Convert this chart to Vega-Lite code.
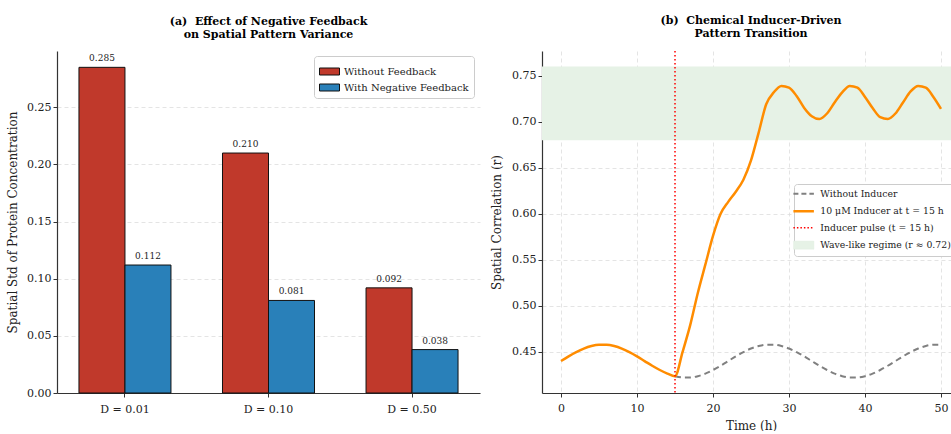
{
  "$schema": "https://vega.github.io/schema/vega-lite/v6.json",
  "background": "white",
  "padding": {"left": 6, "top": 15, "right": 0, "bottom": 0},
  "spacing": 62,
  "bounds": "flush",
  "datasets": {
    "bars": [
      {"cond": "D = 0.01", "grp": "Without Feedback", "v": 0.285},
      {"cond": "D = 0.01", "grp": "With Negative Feedback", "v": 0.112},
      {"cond": "D = 0.10", "grp": "Without Feedback", "v": 0.210},
      {"cond": "D = 0.10", "grp": "With Negative Feedback", "v": 0.081},
      {"cond": "D = 0.50", "grp": "Without Feedback", "v": 0.092},
      {"cond": "D = 0.50", "grp": "With Negative Feedback", "v": 0.038}
    ],
    "gray": [
      {"t": 15, "v": 0.4236}, {"t": 16, "v": 0.4222}, {"t": 17, "v": 0.4222}, {"t": 18, "v": 0.4236},
      {"t": 19, "v": 0.4264}, {"t": 20, "v": 0.4303}, {"t": 21, "v": 0.4349}, {"t": 22, "v": 0.440},
      {"t": 23, "v": 0.4451}, {"t": 24, "v": 0.4497}, {"t": 25, "v": 0.4536}, {"t": 26, "v": 0.4564},
      {"t": 27, "v": 0.4578}, {"t": 28, "v": 0.4578}, {"t": 29, "v": 0.4564}, {"t": 30, "v": 0.4536},
      {"t": 31, "v": 0.4497}, {"t": 32, "v": 0.4451}, {"t": 33, "v": 0.440}, {"t": 34, "v": 0.4349},
      {"t": 35, "v": 0.4303}, {"t": 36, "v": 0.4264}, {"t": 37, "v": 0.4236}, {"t": 38, "v": 0.4222},
      {"t": 39, "v": 0.4222}, {"t": 40, "v": 0.4236}, {"t": 41, "v": 0.4264}, {"t": 42, "v": 0.4303},
      {"t": 43, "v": 0.4349}, {"t": 44, "v": 0.440}, {"t": 45, "v": 0.4451}, {"t": 46, "v": 0.4497},
      {"t": 47, "v": 0.4536}, {"t": 48, "v": 0.4564}, {"t": 49, "v": 0.4578}, {"t": 50, "v": 0.4578}
    ],
    "orange": [
      {"t": 0, "v": 0.440}, {"t": 1, "v": 0.4451}, {"t": 2, "v": 0.4497}, {"t": 3, "v": 0.4536},
      {"t": 4, "v": 0.4564}, {"t": 5, "v": 0.4578}, {"t": 6, "v": 0.4578}, {"t": 7, "v": 0.4564},
      {"t": 8, "v": 0.4536}, {"t": 9, "v": 0.4497}, {"t": 10, "v": 0.4451}, {"t": 11, "v": 0.440},
      {"t": 12, "v": 0.4349}, {"t": 13, "v": 0.4303}, {"t": 14, "v": 0.4264}, {"t": 15, "v": 0.4236},
      {"t": 16, "v": 0.450}, {"t": 17, "v": 0.479}, {"t": 18, "v": 0.514}, {"t": 19, "v": 0.545},
      {"t": 20, "v": 0.576}, {"t": 21, "v": 0.600}, {"t": 22, "v": 0.613}, {"t": 23, "v": 0.624},
      {"t": 24, "v": 0.637}, {"t": 25, "v": 0.658}, {"t": 26, "v": 0.688}, {"t": 27, "v": 0.719},
      {"t": 28, "v": 0.732}, {"t": 29, "v": 0.739}, {"t": 30, "v": 0.737}, {"t": 31, "v": 0.728},
      {"t": 32, "v": 0.715}, {"t": 33, "v": 0.706}, {"t": 34, "v": 0.703}, {"t": 35, "v": 0.709},
      {"t": 36, "v": 0.721}, {"t": 37, "v": 0.732}, {"t": 38, "v": 0.739}, {"t": 39, "v": 0.737},
      {"t": 40, "v": 0.727}, {"t": 41, "v": 0.715}, {"t": 42, "v": 0.705}, {"t": 43, "v": 0.703},
      {"t": 44, "v": 0.709}, {"t": 45, "v": 0.721}, {"t": 46, "v": 0.733}, {"t": 47, "v": 0.739},
      {"t": 48, "v": 0.737}, {"t": 49, "v": 0.727}, {"t": 50, "v": 0.714}
    ],
    "pulse": [{"t": 15, "series": "Inducer pulse (t = 15 h)"}],
    "band": [{"lo": 0.68, "hi": 0.76, "series": "Wave-like regime (r ≈ 0.72)"}]
  },
  "hconcat": [
    {
      "width": 423,
      "height": 342,
      "title": {"text": ["(a)\u00a0 Effect of Negative Feedback", "on Spatial Pattern Variance"], "offset": 11},
      "data": {"name": "bars"},
      "encoding": {
        "x": {"field": "cond", "type": "nominal", "sort": null,
              "scale": {"paddingInner": 0.359, "paddingOuter": 0.153},
              "axis": {"title": null, "labelAngle": 0, "grid": false, "labelPadding": 6, "labelFontSize": 11}},
        "xOffset": {"field": "grp", "type": "nominal", "sort": ["Without Feedback", "With Negative Feedback"]},
        "y": {"field": "v", "type": "quantitative",
              "scale": {"domain": [0, 0.2993], "nice": false, "zero": true},
              "axis": {"title": "Spatial Std of Protein Concentration", "values": [0, 0.05, 0.1, 0.15, 0.2, 0.25], "format": ".2f", "grid": true, "titlePadding": 7, "titleFontSize": 12, "labelFontSize": 11}}
      },
      "layer": [
        {
          "mark": {"type": "bar", "stroke": "#111", "strokeWidth": 1},
          "encoding": {
            "color": {"field": "grp", "type": "nominal",
                      "scale": {"domain": ["Without Feedback", "With Negative Feedback"], "range": ["#c0392b", "#2980b9"]},
                      "legend": {"title": null, "orient": "none", "legendX": 257, "legendY": 5, "padding": 5,
                                 "symbolType": "M-1,-0.35H1V0.35H-1Z", "symbolSize": 400, "labelFontSize": 10,
                                 "symbolStrokeColor": "#111", "symbolStrokeWidth": 1, "rowPadding": -3,
                                 "encode": {"symbols": {"update": {"stroke": {"value": "#111"}, "strokeWidth": {"value": 1}}}}}}
          }
        },
        {
          "mark": {"type": "text", "dy": -4, "fontSize": 9, "color": "#222", "baseline": "bottom"},
          "encoding": {"text": {"field": "v", "type": "quantitative", "format": ".3f"}}
        }
      ]
    },
    {
      "width": 418,
      "height": 342,
      "title": {"text": ["(b)\u00a0 Chemical Inducer-Driven", "Pattern Transition"], "offset": 11},
      "layer": [
        {
          "data": {"name": "band"},
          "mark": {"type": "rect"},
          "encoding": {
            "y": {"field": "lo", "type": "quantitative", "scale": {"domain": [0.4053, 0.7769], "nice": false, "zero": false},
                  "axis": {"title": "Spatial Correlation (r)", "values": [0.45, 0.5, 0.55, 0.6, 0.65, 0.7, 0.75], "format": ".2f", "grid": true, "titleFontSize": 12, "labelFontSize": 11, "titlePadding": 8}},
            "y2": {"field": "hi"},
            "color": {"field": "series", "type": "nominal",
                      "scale": {"domain": ["Without Inducer", "10 μM Inducer at t = 15 h", "Inducer pulse (t = 15 h)", "Wave-like regime (r ≈ 0.72)"],
                                "range": ["#808080", "#ff8c00", "#ff0000", "#e6f2e6"]},
                      "legend": {"title": null, "orient": "none", "legendX": 252, "legendY": 133,
                                 "symbolSize": 420, "rowPadding": 6.5, "labelOffset": 12, "labelFontSize": 9.3, "padding": 5,
                                 "encode": {"symbols": {"update": {
                                   "shape": {"signal": "datum.value === 'Wave-like regime (r ≈ 0.72)' ? 'M-1,-0.4H1V0.4H-1Z' : 'stroke'"},
                                   "size": {"value": 420},
                                   "fill": {"signal": "datum.value === 'Wave-like regime (r ≈ 0.72)' ? '#e3f0e3' : 'transparent'"},
                                   "stroke": {"signal": "datum.value === 'Without Inducer' ? '#808080' : datum.value === 'Inducer pulse (t = 15 h)' ? '#ff0000' : datum.value === 'Wave-like regime (r ≈ 0.72)' ? '#e3f0e3' : '#ff8c00'"},
                                   "strokeWidth": {"signal": "datum.value === 'Without Inducer' ? 2 : datum.value === 'Inducer pulse (t = 15 h)' ? 1.5 : datum.value === 'Wave-like regime (r ≈ 0.72)' ? 0.5 : 2.5"},
                                   "strokeDash": {"signal": "datum.value === 'Without Inducer' ? [5, 3] : datum.value === 'Inducer pulse (t = 15 h)' ? [1.5, 2] : [1, 0]"},
                                   "opacity": {"value": 1}
                                 }}}}}
          }
        },
        {
          "data": {"name": "gray"},
          "mark": {"type": "line", "strokeWidth": 2, "strokeDash": [6, 4], "interpolate": "monotone"},
          "encoding": {
            "x": {"field": "t", "type": "quantitative", "scale": {"domain": [-2.5, 52.5], "nice": false},
                  "axis": {"title": "Time (h)", "values": [0, 10, 20, 30, 40, 50], "grid": true, "titleFontSize": 12, "labelFontSize": 11, "labelPadding": 5, "titlePadding": 7}},
            "y": {"field": "v", "type": "quantitative"},
            "color": {"datum": "Without Inducer"}
          }
        },
        {
          "data": {"name": "orange"},
          "mark": {"type": "line", "strokeWidth": 2.5, "interpolate": "monotone"},
          "encoding": {
            "x": {"field": "t", "type": "quantitative"},
            "y": {"field": "v", "type": "quantitative"},
            "color": {"datum": "10 μM Inducer at t = 15 h"}
          }
        },
        {
          "data": {"name": "pulse"},
          "mark": {"type": "rule", "strokeWidth": 1.5, "strokeDash": [1.5, 2.5]},
          "encoding": {
            "x": {"field": "t", "type": "quantitative"},
            "color": {"field": "series", "type": "nominal"}
          }
        }
      ]
    }
  ],
  "resolve": {"scale": {"color": "independent"}, "legend": {"color": "independent"}},
  "config": {
    "font": "DejaVu Serif",
    "view": {"stroke": null},
    "axis": {"domainColor": "#333", "tickColor": "#333", "labelColor": "#222", "titleColor": "#222",
             "labelFontSize": 10, "titleFontSize": 11, "titleFontWeight": "normal",
             "gridColor": "#dddddd", "gridDash": [4, 3], "gridWidth": 0.8, "tickSize": 4, "domainWidth": 1.2},
    "title": {"fontSize": 11, "fontWeight": "bold", "font": "DejaVu Serif", "lineHeight": 13, "anchor": "middle"},
    "legend": {"labelFont": "DejaVu Serif", "labelFontSize": 9.5, "labelColor": "#222",
               "strokeColor": "#cccccc", "fillColor": "white", "cornerRadius": 3, "padding": 6}
  }
}
